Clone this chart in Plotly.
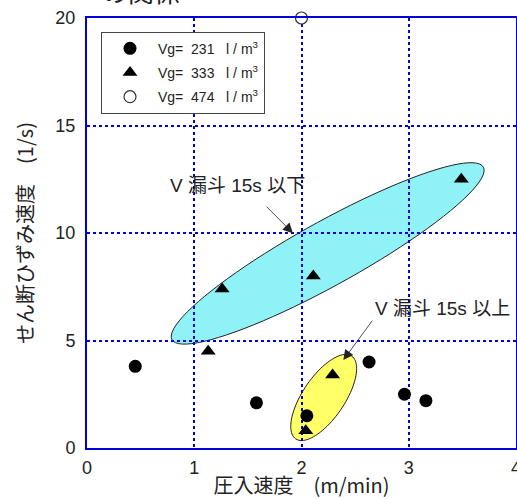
import math
import plotly.graph_objects as go

# ---------------- data ----------------
x_231 = [0.45, 1.58, 2.05, 2.63, 2.96, 3.16]
y_231 = [3.8, 2.1, 1.5, 4.0, 2.5, 2.2]

x_333 = [1.13, 1.26, 2.11, 3.49, 2.29, 2.04]
y_333 = [4.5, 7.4, 8.0, 12.5, 3.4, 0.8]

x_474 = [2.0]
y_474 = [20.0]

legend_names = ["Vg=  231   l / m<sup>3</sup>", "Vg=  333   l / m<sup>3</sup>", "Vg=  474   l / m<sup>3</sup>"]
x_ticks = [0, 1, 2, 3, 4]
y_ticks = [0, 5, 10, 15, 20]
label_low = "V 漏斗 15s 以下"
label_high = "V 漏斗 15s 以上"

# ---------------- layout geometry ----------------
W, H = 517, 499
ML, MR, MT, MB = 87, 1, 18, 51
PW, PH = W - ML - MR, H - MT - MB
XR, YR = (0, 4), (0, 20)

BLUE = "#0000dd"
FONT = "Liberation Sans, Arial, Noto Sans CJK JP"


def ellipse_path(cx, cy, a_px, b_px, theta_deg, n=90):
    th = math.radians(theta_deg)
    sx = (XR[1] - XR[0]) / PW
    sy = (YR[1] - YR[0]) / PH
    pts = []
    for i in range(n):
        t = 2 * math.pi * i / n
        dx = a_px * math.cos(th) * math.cos(t) - b_px * math.sin(th) * math.sin(t)
        dy = a_px * math.sin(th) * math.cos(t) + b_px * math.cos(th) * math.sin(t)
        pts.append((cx + dx * sx, cy + dy * sy))
    return "M " + " L ".join(f"{px:.4f},{py:.4f}" for px, py in pts) + " Z"


fig = go.Figure()
fig.add_trace(go.Scatter(x=x_231, y=y_231, mode="markers", name=legend_names[0],
                         legendgroup="a",
                         marker=dict(symbol="circle", size=13, color="black"), cliponaxis=False))
fig.add_trace(go.Scatter(x=x_333, y=y_333, mode="markers", name=legend_names[1],
                         legendgroup="b",
                         marker=dict(symbol="triangle-up", size=13, color="black"), cliponaxis=False))
fig.add_trace(go.Scatter(x=x_474, y=y_474, mode="markers", name=legend_names[2],
                         legendgroup="c",
                         marker=dict(symbol="circle", size=12, color="white",
                                     line=dict(color="#333333", width=1.2)), cliponaxis=False))

shapes = [
    dict(type="path", path=ellipse_path(2.244, 9.05, 178, 32, 29),
         xref="x", yref="y", fillcolor="#8ef2f6", line=dict(color="#222222", width=1), layer="below"),
    dict(type="path", path=ellipse_path(2.207, 2.35, 50, 21, 56),
         xref="x", yref="y", fillcolor="#ffff66", line=dict(color="#222222", width=1), layer="below"),
]

annotations = [
    dict(x=1.40, y=12.23, xref="x", yref="y", text=label_low, showarrow=False,
         font=dict(family=FONT, size=19, color="#222222")),
    dict(x=2.67, y=6.51, xref="x", yref="y", text=label_high, showarrow=False, xanchor="left",
         font=dict(family=FONT, size=19, color="#222222")),
    dict(x=1.92, y=9.99, ax=1.66, ay=11.30, xref="x", yref="y", axref="x", ayref="y",
         text="", showarrow=True, arrowhead=2, arrowsize=2.5, arrowwidth=0.8, arrowcolor="#222222"),
    dict(x=2.39, y=4.09, ax=2.67, ay=5.99, xref="x", yref="y", axref="x", ayref="y",
         text="", showarrow=True, arrowhead=2, arrowsize=2.5, arrowwidth=0.8, arrowcolor="#222222"),
    dict(x=(100 - ML) / PW, y=1 + (MT - 11) / PH, xref="paper", yref="paper", xanchor="left",
         yanchor="bottom", text="の関係", showarrow=False,
         font=dict(family="Noto Sans CJK JP", size=26, color="#222222")),
]

fig.update_layout(
    width=W, height=H,
    margin=dict(l=ML, r=MR, t=MT, b=MB, autoexpand=False),
    paper_bgcolor="white", plot_bgcolor="white",
    font=dict(family=FONT, color="#222222"),
    shapes=shapes, annotations=annotations,
    showlegend=True,
    legend=dict(x=(101 - ML) / PW, y=(MT + PH - 31.7) / PH, xanchor="left", yanchor="top",
                bgcolor="white", bordercolor="#444444", borderwidth=1,
                font=dict(family=FONT, size=14, color="#222222"),
                itemwidth=46, traceorder="grouped", tracegroupgap=3),
)
fig.update_xaxes(range=list(XR), tickvals=x_ticks, ticktext=[str(v) for v in x_ticks],
                 showgrid=True, gridcolor=BLUE, gridwidth=2, griddash="dot",
                 showline=True, linecolor=BLUE, linewidth=2, mirror=True, zeroline=False,
                 ticks="", automargin=False, ticklabelstandoff=2, ticklabeloverflow="allow",
                 tickfont=dict(family=FONT, size=18, color="#222222"),
                 title=dict(text="圧入速度　(m/min)", standoff=11,
                            font=dict(family="Noto Sans CJK JP", size=20, color="#222222")))
fig.update_yaxes(range=list(YR), tickvals=y_ticks, ticktext=[str(v) for v in y_ticks],
                 showgrid=True, gridcolor=BLUE, gridwidth=2, griddash="dot",
                 showline=True, linecolor=BLUE, linewidth=2, mirror=True, zeroline=False,
                 ticks="", automargin=False, ticklabelstandoff=6,
                 tickfont=dict(family=FONT, size=18, color="#222222"),
                 title=dict(text="せん断ひずみ速度　(1/s)", standoff=16,
                            font=dict(family="Noto Sans CJK JP", size=20, color="#222222")))

fig.write_html("out.html", config={"displayModeBar": False},
               post_script="document.body.style.margin='0px';")
